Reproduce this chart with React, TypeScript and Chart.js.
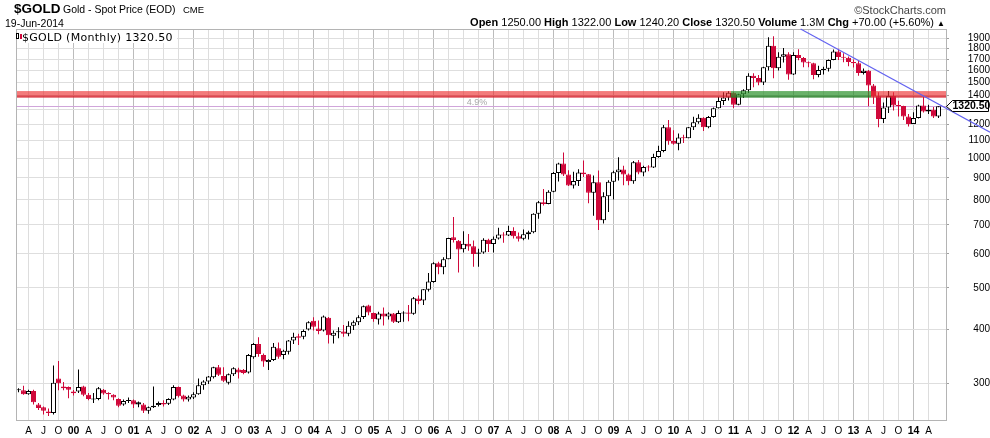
import React, { useEffect, useRef } from 'react';
import { Chart, registerables } from 'chart.js';

Chart.register(...registerables);

// ---------- categories (monthly, Feb 1999 .. Jun 2014, plus one empty slot) ----------
const FIRST_YEAR = 1999;
const FIRST_MONTH = 1; // February (0-based)
const SLOT_COUNT = 186;
const monthLabels: string[] = [];
for (let i = 0; i < SLOT_COUNT; i++) {
  const m = FIRST_MONTH + i;
  monthLabels.push(`${FIRST_YEAR + Math.floor(m / 12)}-${String((m % 12) + 1).padStart(2, '0')}`);
}

// ---------- OHLC series ----------
const opens: number[] = [
  /*1999*/ 289, 289, 283, 288, 268, 264, 258, 256, 308, 295, 294,
  /*2000*/ 284.5, 287, 295, 282, 275, 276, 290, 285, 282, 276, 268, 273,
  /*2001*/ 274, 271, 268, 259, 264, 267, 270, 269, 275, 294, 281, 275,
  /*2002*/ 278, 283, 297, 303, 310, 327, 312, 301, 315, 323, 322, 318,
  /*2003*/ 345, 370, 349, 336, 340, 362, 349, 355, 377, 386, 385, 400,
  /*2004*/ 419, 402, 398, 426, 387, 394, 396, 391, 408, 416, 428, 455,
  /*2005*/ 437, 422, 436, 429, 436, 416, 436, 438, 435, 472, 467, 495,
  /*2006*/ 516, 570, 558, 583, 655, 643, 615, 633, 625, 600, 604, 647,
  /*2007*/ 632, 651, 665, 662, 678, 659, 650, 666, 673, 743, 790, 783,
  /*2008*/ 836, 924, 972, 917, 865, 886, 927, 918, 832, 880, 718, 816,
  /*2009*/ 882, 928, 942, 917, 884, 979, 927, 954, 952, 1007, 1040, 1181,
  /*2010*/ 1097, 1081, 1118, 1113, 1180, 1212, 1242, 1181, 1248, 1307, 1358, 1385,
  /*2011*/ 1421, 1332, 1409, 1439, 1556, 1536, 1500, 1628, 1826, 1620, 1722, 1746,
  /*2012*/ 1566, 1738, 1710, 1669, 1664, 1561, 1604, 1615, 1691, 1772, 1720, 1713,
  /*2013*/ 1675, 1664, 1579, 1597, 1476, 1393, 1234, 1312, 1396, 1327, 1323, 1250,
  /*2014*/ 1202, 1240, 1326, 1284, 1296, 1250,
];
const highs: number[] = [
  /*1999*/ 292, 296, 290, 290, 270, 265, 262, 330, 338, 302, 295,
  /*2000*/ 289.5, 323, 296, 285, 285, 294, 291, 286, 283, 277, 275, 278,
  /*2001*/ 275, 272, 270, 265, 295, 272, 274, 277, 297, 295, 282, 281,
  /*2002*/ 286, 308, 305, 312, 328, 331, 327, 316, 327, 326, 324, 351,
  /*2003*/ 372, 384, 352, 341, 372, 373, 359, 378, 393, 391, 400, 418,
  /*2004*/ 427, 420, 431, 428, 398, 405, 410, 418, 420, 432, 455, 457,
  /*2005*/ 438, 440, 450, 439, 437, 443, 441, 456, 476, 480, 497, 541,
  /*2006*/ 573, 575, 589, 654, 730, 646, 677, 667, 644, 616, 652, 650,
  /*2007*/ 658, 690, 673, 697, 691, 672, 683, 679, 745, 796, 848, 843,
  /*2008*/ 929, 977, 1032, 938, 930, 943, 988, 920, 912, 937, 834, 889,
  /*2009*/ 936, 1006, 961, 922, 986, 991, 961, 964, 1024, 1070, 1195, 1227,
  /*2010*/ 1162, 1142, 1134, 1182, 1249, 1266, 1246, 1254, 1312, 1388, 1424, 1432,
  /*2011*/ 1424, 1412, 1447, 1576, 1577, 1561, 1632, 1912, 1921, 1764, 1804, 1764,
  /*2012*/ 1764, 1792, 1720, 1679, 1667, 1640, 1631, 1696, 1790, 1796, 1755, 1723,
  /*2013*/ 1697, 1682, 1617, 1605, 1488, 1424, 1348, 1434, 1424, 1361, 1324, 1267,
  /*2014*/ 1280, 1332, 1392, 1331, 1315, 1322,
];
const lows: number[] = [
  /*1999*/ 286, 282, 282, 268, 260, 254, 252, 254, 289, 289, 277,
  /*2000*/ 281, 285, 280, 274, 270, 274, 282, 275, 274, 264, 266, 270,
  /*2001*/ 263, 264, 256, 255, 263, 265, 265, 267, 274, 278, 272, 272,
  /*2002*/ 276, 282, 290, 299, 308, 312, 302, 298, 312, 308, 315, 316,
  /*2003*/ 342, 346, 328, 322, 338, 342, 341, 350, 370, 368, 380, 398,
  /*2004*/ 398, 390, 396, 371, 371, 382, 385, 386, 399, 410, 423, 432,
  /*2005*/ 417, 411, 409, 422, 414, 414, 417, 418, 433, 458, 456, 490,
  /*2006*/ 514, 538, 538, 583, 637, 543, 604, 610, 560, 560, 600, 606,
  /*2007*/ 604, 648, 636, 660, 651, 641, 645, 648, 670, 724, 777, 782,
  /*2008*/ 834, 883, 910, 862, 851, 862, 905, 786, 735, 681, 705, 750,
  /*2009*/ 802, 888, 866, 866, 873, 918, 908, 933, 950, 1003, 1033, 1075,
  /*2010*/ 1075, 1044, 1086, 1113, 1163, 1203, 1157, 1175, 1243, 1305, 1330, 1362,
  /*2011*/ 1309, 1328, 1381, 1419, 1462, 1478, 1481, 1600, 1535, 1600, 1669, 1522,
  /*2012*/ 1562, 1689, 1627, 1627, 1527, 1542, 1565, 1591, 1690, 1691, 1672, 1636,
  /*2013*/ 1626, 1555, 1565, 1321, 1338, 1180, 1208, 1275, 1291, 1251, 1227, 1185,
  /*2014*/ 1201, 1238, 1277, 1268, 1240, 1240.2,
];
const closes: number[] = [
  /*1999*/ 289.5, 283, 288, 271, 263, 259, 256, 301, 300, 292, 290,
  /*2000*/ 287, 294, 282, 276, 276, 292, 284, 283, 278, 266, 273, 274,
  /*2001*/ 268, 268, 259, 264, 266, 270, 268, 276, 294, 280, 275, 279,
  /*2002*/ 283, 297, 303, 311, 327, 314, 304, 315, 325, 318, 317, 349,
  /*2003*/ 370, 351, 337, 340, 365, 346, 357, 377, 385, 383, 397, 416,
  /*2004*/ 406, 397, 429, 388, 393, 396, 391, 408, 416, 427, 453, 438,
  /*2005*/ 423, 436, 429, 436, 417, 437, 437, 435, 473, 466, 496, 517,
  /*2006*/ 570, 558, 583, 653, 646, 614, 633, 624, 599, 604, 647, 632,
  /*2007*/ 650, 665, 662, 678, 659, 650, 666, 673, 743, 790, 783, 836,
  /*2008*/ 924, 972, 917, 865, 886, 927, 918, 832, 880, 718, 816, 882,
  /*2009*/ 928, 942, 917, 884, 979, 927, 954, 952, 1007, 1040, 1181, 1096,
  /*2010*/ 1081, 1118, 1113, 1180, 1212, 1242, 1181, 1248, 1307, 1358, 1385, 1421,
  /*2011*/ 1332, 1409, 1439, 1556, 1536, 1500, 1628, 1826, 1620, 1722, 1746, 1566,
  /*2012*/ 1738, 1710, 1669, 1664, 1561, 1604, 1615, 1691, 1772, 1720, 1713, 1675,
  /*2013*/ 1664, 1579, 1597, 1476, 1393, 1234, 1312, 1396, 1327, 1323, 1250, 1202,
  /*2014*/ 1240, 1326, 1284, 1296, 1250, 1320.5,
];

// ---------- annotations ----------
const lastClose = 1320.5;
const resistanceBand = [1384, 1433];
const supportSpan = ['2011-01', '2013-04'];
const trendDates = ['2012-04', '2014-05'];
const trendValues = [1952, 1356];
const bandGapText = '4.9%';

// ---------- axes ----------
const yTicks = [300, 400, 500, 600, 700, 800, 900, 1000, 1100, 1200, 1300, 1400, 1500, 1600, 1700, 1800, 1900];
const hiddenYTick = 1300;
const yMin = 245.2;
const yMax = 1997.4;
const quarterLetters: Record<number, string> = { 3: 'A', 6: 'J', 9: 'O' };

const BLACK = '#000000';
const RED = '#D0093B';

const FONT = '"Liberation Sans", Arial, sans-serif';

function monthOf(idx: number) {
  return (FIRST_MONTH + idx) % 12;
}
function yearOf(idx: number) {
  return FIRST_YEAR + Math.floor((FIRST_MONTH + idx) / 12);
}

const overlayPlugin = {
  id: 'overlay',
  beforeDatasetsDraw(chart: any) {
    const { ctx, chartArea: a, scales } = chart;
    const y = scales.y;
    const yc = Math.round(y.getPixelForValue(lastClose)) + 0.5;
    ctx.save();
    ctx.strokeStyle = 'rgb(208,165,218)';
    ctx.lineWidth = 1;
    ctx.beginPath();
    ctx.moveTo(a.left, yc);
    ctx.lineTo(a.right, yc);
    ctx.stroke();
    ctx.restore();
  },
  afterDatasetsDraw(chart: any) {
    const { ctx, chartArea: a, scales } = chart;
    const x = scales.x;
    const y = scales.y;
    const yTop = y.getPixelForValue(resistanceBand[1]);
    const yBot = y.getPixelForValue(resistanceBand[0]);
    const half = (x.getPixelForValue(1) - x.getPixelForValue(0)) / 2;
    const gs = x.getPixelForValue(monthLabels.indexOf(supportSpan[0])) - half;
    const ge = x.getPixelForValue(monthLabels.indexOf(supportSpan[1])) + half;
    ctx.save();
    ctx.fillStyle = 'rgba(236,48,48,0.64)';
    ctx.fillRect(a.left, yTop, gs - a.left, yBot - yTop);
    ctx.fillRect(ge, yTop, a.right - ge, yBot - yTop);
    ctx.fillStyle = 'rgba(200,30,45,0.55)';
    ctx.fillRect(a.left, yBot - 2, gs - a.left, 2);
    ctx.fillRect(ge, yBot - 2, a.right - ge, 2);
    ctx.fillStyle = 'rgba(48,148,48,0.72)';
    ctx.fillRect(gs, yTop, ge - gs, yBot - yTop);
    ctx.fillStyle = 'rgba(30,110,30,0.45)';
    ctx.fillRect(gs, yBot - 2, ge - gs, 2);
    // gap label between close line and band
    const yc = y.getPixelForValue(lastClose);
    ctx.fillStyle = '#a8a8a8';
    ctx.font = `9px ${FONT}`;
    ctx.textAlign = 'center';
    ctx.textBaseline = 'middle';
    ctx.fillText(bandGapText, 477, (yc + yBot) / 2 + 0.5);
    ctx.restore();
  },
  afterDraw(chart: any) {
    const { ctx, chartArea: a, scales, width } = chart;
    const x = scales.x;
    const y = scales.y;
    ctx.save();
    // frame
    ctx.strokeStyle = '#b4b4b4';
    ctx.lineWidth = 1;
    ctx.strokeRect(a.left + 0.5, a.top + 0.5, a.right - a.left, a.bottom - a.top - 1);
    // trend line
    const x1 = x.getPixelForValue(monthLabels.indexOf(trendDates[0]));
    const y1 = y.getPixelForValue(trendValues[0]);
    const x2 = x.getPixelForValue(monthLabels.indexOf(trendDates[1]));
    const y2 = y.getPixelForValue(trendValues[1]);
    const slope = (y2 - y1) / (x2 - x1);
    const sx = x1 + (a.top - y1) / slope;
    const ex = width;
    const ey = y1 + (ex - x1) * slope;
    ctx.strokeStyle = 'rgb(98,98,240)';
    ctx.lineWidth = 1.1;
    ctx.beginPath();
    ctx.moveTo(sx, a.top);
    ctx.lineTo(ex, ey);
    ctx.stroke();
    // price label
    const yc = Math.round(y.getPixelForValue(lastClose)) + 0.5;
    const l = a.right + 0.5;
    ctx.beginPath();
    ctx.moveTo(l, yc);
    ctx.lineTo(l + 6, yc - 6);
    ctx.lineTo(988.5, yc - 6);
    ctx.lineTo(988.5, yc + 5);
    ctx.lineTo(l + 6, yc + 5);
    ctx.closePath();
    ctx.fillStyle = '#fff';
    ctx.fill();
    ctx.strokeStyle = '#000';
    ctx.lineWidth = 1;
    ctx.stroke();
    ctx.fillStyle = '#000';
    ctx.font = `bold 10.5px ${FONT}`;
    ctx.textAlign = 'left';
    ctx.textBaseline = 'middle';
    ctx.fillText(lastClose.toFixed(2), l + 6, yc);
    ctx.restore();
  },
};

export default function App() {
  const ref = useRef<HTMLCanvasElement>(null);

  useEffect(() => {
    const colors = closes.map((c, i) => (i === 0 || c >= closes[i - 1] ? BLACK : RED));
    const bodies = opens.map((o, i) => [Math.min(o, closes[i]), Math.max(o, closes[i])]);
    const wicks = lows.map((l, i) => [l, highs[i]]);
    const bodyFill = opens.map((o, i) => (closes[i] >= o ? '#ffffff' : colors[i]));

    const chart = new Chart(ref.current as HTMLCanvasElement, {
      type: 'bar',
      data: {
        labels: monthLabels,
        datasets: [
          {
            label: 'body',
            data: bodies as any,
            backgroundColor: bodyFill,
            borderColor: colors,
            borderWidth: 1,
            borderSkipped: false,
            barThickness: 5,
            minBarLength: 1,
            inflateAmount: 0,
            grouped: false,
            order: 0,
          } as any,
          {
            label: 'wick',
            data: wicks as any,
            backgroundColor: colors,
            borderWidth: 0,
            barThickness: 1,
            inflateAmount: 0,
            grouped: false,
            order: 1,
          } as any,
        ],
      },
      options: {
        responsive: false,
        animation: false,
        events: [],
        layout: { padding: { left: 16, top: 29, right: 0, bottom: 0 } },
        plugins: { legend: { display: false }, tooltip: { enabled: false }, title: { display: false } },
        scales: {
          x: {
            type: 'category',
            offset: true,
            border: { display: false },
            grid: {
              offset: false,
              drawTicks: false,
              color: (ctx: any) => {
                const idx = ctx.index;
                if (idx === undefined || idx >= opens.length) return 'rgba(0,0,0,0)';
                const mo = monthOf(idx);
                if (mo === 0) return '#bcbcbc';
                if (mo % 3 === 0) return '#dddddd';
                return 'rgba(0,0,0,0)';
              },
            },
            ticks: {
              autoSkip: false,
              maxRotation: 0,
              minRotation: 0,
              padding: 4,
              color: '#000',
              font: (ctx: any) => {
                const idx = ctx.index;
                const isYear = idx !== undefined && monthOf(idx) === 0;
                return { family: FONT, size: isYear ? 10.5 : 10, weight: isYear ? 'bold' : 'normal' } as any;
              },
              callback: (_v: any, idx: number) => {
                if (idx >= opens.length) return '';
                const mo = monthOf(idx);
                if (mo === 0) return String(yearOf(idx) % 100).padStart(2, '0');
                return quarterLetters[mo] || '';
              },
            },
            afterFit: (scale: any) => {
              scale.height = 17;
            },
          },
          y: {
            type: 'logarithmic',
            position: 'right',
            min: yMin,
            max: yMax,
            bounds: 'data',
            border: { display: false },
            grid: { color: '#dedede', tickColor: '#a0a0a0', tickLength: 3, drawTicks: true },
            ticks: {
              autoSkip: false,
              crossAlign: 'far',
              padding: 2,
              color: '#000',
              font: { family: FONT, size: 10 },
              callback: (v: any) => (Number(v) === hiddenYTick ? '' : String(v)),
            },
            afterBuildTicks: (scale: any) => {
              scale.ticks = yTicks.map((v) => ({ value: v }));
            },
            afterFit: (scale: any) => {
              scale.width = 44;
            },
          } as any,
        },
      } as any,
      plugins: [overlayPlugin],
    });
    return () => chart.destroy();
  }, []);

  const abs = (o: React.CSSProperties): React.CSSProperties => ({ position: 'absolute', lineHeight: 1, whiteSpace: 'nowrap', ...o });

  return (
    <div style={{ position: 'fixed', left: 0, top: 0, width: 990, height: 438, background: '#fff', overflow: 'hidden', fontFamily: FONT, color: '#000' }}>
      <canvas ref={ref} width={990} height={438} style={{ position: 'absolute', left: 0, top: 0, width: 990, height: 438 }} />
      <div style={abs({ left: 14, top: 2.3, fontSize: 13.5, fontWeight: 'bold' })}>$GOLD</div>
      <div style={abs({ left: 63, top: 4.3, fontSize: 10.5 })}>Gold - Spot Price (EOD)</div>
      <div style={abs({ left: 183, top: 5, fontSize: 9.5 })}>CME</div>
      <div style={abs({ left: 5, top: 17.8, fontSize: 10.5 })}>19-Jun-2014</div>
      <div style={abs({ right: 44, top: 4.7, fontSize: 11, color: '#444' })}>©StockCharts.com</div>
      <div style={abs({ right: 45, top: 17.4, fontSize: 11 })}>
        <b>Open</b> 1250.00 <b>High</b> 1322.00 <b>Low</b> 1240.20 <b>Close</b> 1320.50 <b>Volume</b> 1.3M <b>Chg</b> +70.00 (+5.60%) <span style={{ fontSize: 8 }}>▲</span>
      </div>
      <div style={{ position: 'absolute', left: 17, top: 30, width: 160, height: 13, background: '#fff' }} />
      <div style={{ position: 'absolute', left: 16, top: 33, width: 3, height: 6, border: '1px solid #000', boxSizing: 'border-box', background: '#fff' }} />
      <div style={{ position: 'absolute', left: 20, top: 34, width: 2, height: 5, background: RED }} />
      <div style={abs({ left: 22, top: 32.4, fontSize: 11, fontFamily: '"DejaVu Sans", Verdana, sans-serif', letterSpacing: 0.3 })}>$GOLD (Monthly) 1320.50</div>
    </div>
  );
}
